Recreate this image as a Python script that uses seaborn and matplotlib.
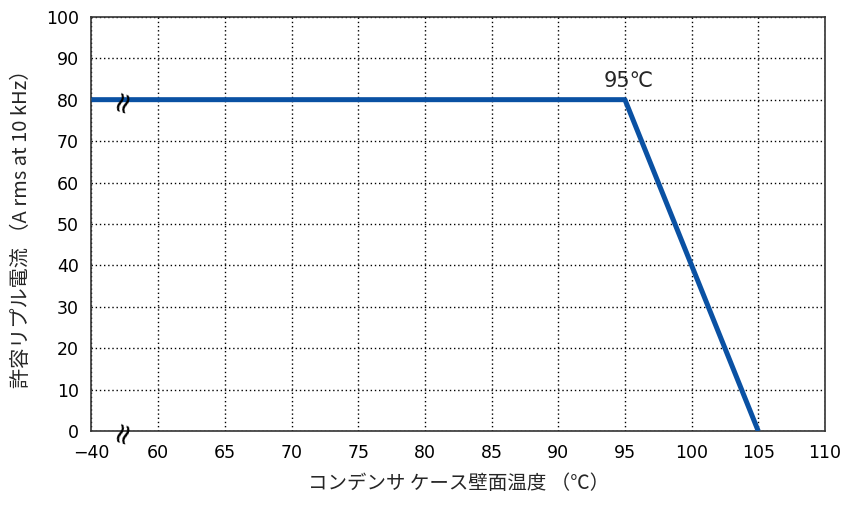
import matplotlib
matplotlib.use("Agg")
import matplotlib.pyplot as plt
import pandas as pd
import seaborn as sns

# derating curve
temps = [55, 95, 105]
ripple = [80, 80, 0]
x_ticks = [55, 60, 65, 70, 75, 80, 85, 90, 95, 100, 105, 110]
x_labels = ["\u221240", "60", "65", "70", "75", "80", "85", "90", "95", "100", "105", "110"]
y_ticks = list(range(0, 101, 10))

df = pd.DataFrame({"temp": temps, "ripple": ripple})

sns.set_style("white")
plt.rcParams["font.family"] = "DejaVu Sans"
jp = ["Noto Sans CJK JP", "DejaVu Sans"]

fig, ax = plt.subplots(figsize=(8.47, 5.09), dpi=100)
sns.lineplot(data=df, x="temp", y="ripple", color="#0a51a3", linewidth=3.6, ax=ax,
             solid_capstyle="butt", zorder=3)

ax.set_xlim(55, 110)
ax.set_ylim(0, 100)
ax.set_xticks(x_ticks)
ax.set_xticklabels(x_labels)
ax.set_yticks(y_ticks)
ax.tick_params(direction="in", length=4, labelsize=12.5, colors="black")
ax.tick_params(axis="x", pad=9)
ax.tick_params(axis="y", pad=9)
ax.grid(True, linestyle=(0, (1, 2)), color="black", linewidth=1)
for s in ax.spines.values():
    s.set_color("#333333")
    s.set_linewidth(1.2)

# break marks
for yv in [80, 0]:
    ax.text(57.3, yv, "\u2248", rotation=72, ha="center", va="center", fontsize=21,
            color="black", zorder=4)

ax.text(95.3, 82, "95\u2103", ha="center", va="bottom", fontsize=15)

ax.set_xlabel("コンデンサ ケース壁面温度 （\u2103）", fontsize=14, labelpad=8, family=jp)
ax.set_ylabel("許容リプル電流 （A rms at 10 kHz）", fontsize=14.5, labelpad=10, family=jp)

plt.subplots_adjust(left=0.108, right=0.974, top=0.967, bottom=0.153)
plt.savefig("out.png", dpi=100)
